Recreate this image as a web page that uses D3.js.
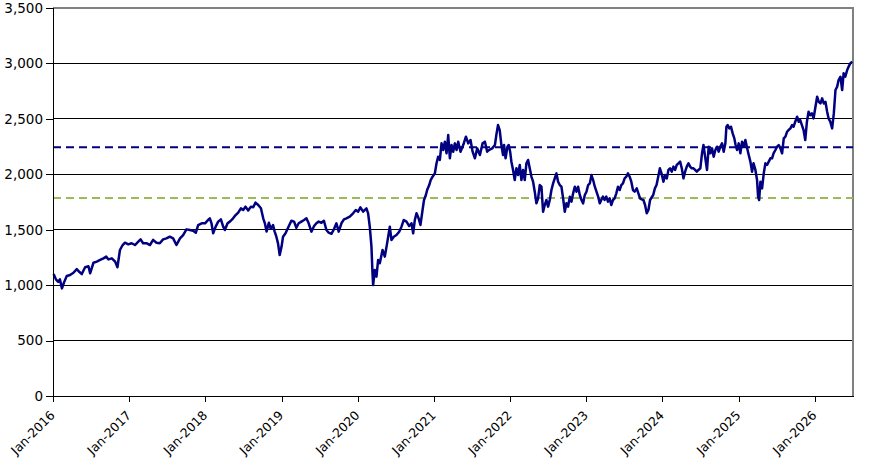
<!DOCTYPE html>
<html>
<head>
<meta charset="utf-8">
<script src="https://cdn.jsdelivr.net/npm/d3@7"></script>
<style>
  body { margin: 0; background: #fff; }
  svg { display: block; }
</style>
</head>
<body>
<div id="chart"></div>
<script>
// index level (weekly-ish samples)
var dates = [
  "2016-01-04","2016-01-15","2016-01-26","2016-02-03","2016-02-13","2016-02-23","2016-03-07","2016-03-23","2016-04-08","2016-04-24",
  "2016-05-07","2016-05-18","2016-06-03","2016-06-19","2016-06-27","2016-07-13","2016-07-29","2016-08-14","2016-08-30","2016-09-12",
  "2016-09-23","2016-10-09","2016-10-25","2016-11-05","2016-11-17","2016-11-30","2016-12-11","2016-12-27",
  "2017-01-12","2017-01-28","2017-02-13","2017-02-24","2017-03-08","2017-03-24","2017-04-10","2017-04-25","2017-05-11","2017-05-27",
  "2017-06-12","2017-06-28","2017-07-14","2017-07-30","2017-08-15","2017-09-01","2017-09-16","2017-10-02","2017-10-18","2017-11-03",
  "2017-11-16","2017-11-27","2017-12-14","2017-12-30",
  "2018-01-14","2018-01-22","2018-01-30","2018-02-07","2018-02-19","2018-03-03","2018-03-16","2018-03-27","2018-04-04","2018-04-17",
  "2018-04-28","2018-05-09","2018-05-22","2018-06-07","2018-06-20","2018-07-01","2018-07-12","2018-07-25","2018-08-07","2018-08-18",
  "2018-08-29","2018-09-11","2018-09-24","2018-10-05","2018-10-13","2018-10-21","2018-11-01","2018-11-10","2018-11-21","2018-11-29",
  "2018-12-07","2018-12-15","2018-12-23",
  "2019-01-01","2019-01-08","2019-01-20","2019-02-01","2019-02-17","2019-03-02","2019-03-13","2019-03-24","2019-04-06","2019-04-19",
  "2019-04-30","2019-05-11","2019-05-24","2019-06-06","2019-06-17","2019-06-28","2019-07-11","2019-07-23","2019-08-04","2019-08-15",
  "2019-08-28","2019-09-10","2019-09-21","2019-10-02","2019-10-15","2019-10-27","2019-11-08","2019-11-24","2019-12-10","2019-12-23",
  "2020-01-03","2020-01-14","2020-01-27","2020-02-12","2020-02-20","2020-02-28","2020-03-07","2020-03-12","2020-03-15","2020-03-23",
  "2020-03-31","2020-04-08","2020-04-16","2020-04-29","2020-05-10","2020-05-21","2020-06-03","2020-06-11","2020-06-22","2020-07-05",
  "2020-07-18","2020-07-29","2020-08-09","2020-08-22","2020-09-04","2020-09-15","2020-09-23","2020-10-01","2020-10-09","2020-10-19",
  "2020-10-28","2020-11-07","2020-11-14","2020-11-23","2020-11-29","2020-12-09","2020-12-16","2020-12-25",
  "2021-01-05","2021-01-13","2021-01-21","2021-01-29","2021-02-06","2021-02-14","2021-02-22","2021-03-02","2021-03-10","2021-03-18",
  "2021-03-26","2021-04-03","2021-04-11","2021-04-19","2021-04-27","2021-05-08","2021-05-21","2021-06-03","2021-06-14","2021-06-25",
  "2021-07-05","2021-07-16","2021-07-27","2021-08-09","2021-08-22","2021-09-02","2021-09-13","2021-09-23","2021-10-07","2021-10-20",
  "2021-10-28","2021-11-04","2021-11-12","2021-11-20","2021-11-28","2021-12-03","2021-12-10","2021-12-19","2021-12-25",
  "2022-01-01","2022-01-07","2022-01-15","2022-01-23","2022-01-31","2022-02-08","2022-02-16","2022-02-24","2022-03-04","2022-03-12",
  "2022-03-20","2022-03-28","2022-04-05","2022-04-13","2022-04-21","2022-04-29","2022-05-07","2022-05-15","2022-05-23","2022-05-31",
  "2022-06-08","2022-06-16","2022-06-24","2022-07-02","2022-07-10","2022-07-18","2022-07-26","2022-08-03","2022-08-11","2022-08-19",
  "2022-08-27","2022-09-04","2022-09-12","2022-09-20","2022-09-28","2022-10-06","2022-10-14","2022-10-22","2022-10-30","2022-11-07",
  "2022-11-15","2022-11-23","2022-12-01","2022-12-09","2022-12-17","2022-12-25",
  "2023-01-02","2023-01-10","2023-01-18","2023-01-26","2023-02-03","2023-02-11","2023-02-19","2023-02-27","2023-03-07","2023-03-14",
  "2023-03-22","2023-03-30","2023-04-07","2023-04-15","2023-04-23","2023-05-01","2023-05-09","2023-05-17","2023-05-25","2023-06-02",
  "2023-06-10","2023-06-18","2023-06-26","2023-07-04","2023-07-12","2023-07-20","2023-07-28","2023-08-05","2023-08-13","2023-08-21",
  "2023-08-31","2023-09-08","2023-09-16","2023-09-24","2023-10-02","2023-10-10","2023-10-18","2023-10-26","2023-11-03","2023-11-11",
  "2023-11-18","2023-11-26","2023-12-04","2023-12-12","2023-12-20","2023-12-28",
  "2024-01-06","2024-01-14","2024-01-22","2024-01-30","2024-02-07","2024-02-15","2024-02-23","2024-03-02","2024-03-10","2024-03-18",
  "2024-03-26","2024-04-03","2024-04-11","2024-04-19","2024-04-27","2024-05-05","2024-05-13","2024-05-21","2024-05-29","2024-06-06",
  "2024-06-14","2024-06-22","2024-07-01","2024-07-09","2024-07-16","2024-07-25","2024-08-02","2024-08-10","2024-08-18","2024-08-26",
  "2024-09-03","2024-09-11","2024-09-19","2024-09-27","2024-10-05","2024-10-13","2024-10-21","2024-10-29","2024-11-03","2024-11-09",
  "2024-11-17","2024-11-25","2024-12-03","2024-12-11","2024-12-17","2024-12-24",
  "2025-01-01","2025-01-09","2025-01-17","2025-01-25","2025-02-02","2025-02-10","2025-02-18","2025-02-26","2025-03-06","2025-03-13",
  "2025-03-22","2025-03-30","2025-04-04","2025-04-09","2025-04-15","2025-04-23","2025-05-01","2025-05-09","2025-05-17","2025-05-25",
  "2025-06-02","2025-06-10","2025-06-17","2025-06-26","2025-07-04","2025-07-12","2025-07-20","2025-07-28","2025-08-05","2025-08-13",
  "2025-08-21","2025-08-28","2025-09-06","2025-09-14","2025-09-21","2025-09-29","2025-10-08","2025-10-16","2025-10-23","2025-10-31",
  "2025-11-08","2025-11-16","2025-11-24","2025-12-02","2025-12-10","2025-12-18","2025-12-26",
  "2026-01-04","2026-01-12","2026-01-20","2026-01-28","2026-02-05","2026-02-13","2026-02-21","2026-03-01","2026-03-08","2026-03-16",
  "2026-03-25","2026-04-02","2026-04-10","2026-04-18","2026-04-25","2026-05-04","2026-05-12","2026-05-19","2026-05-27","2026-06-05",
  "2026-06-12","2026-06-20","2026-06-29"
];

var values = [
  1100,1052,1030,1052,971,1025,1082,1092,1112,1145,
  1118,1100,1161,1170,1107,1202,1212,1227,1242,1257,
  1232,1242,1212,1161,1317,1362,1383,1368,
  1378,1362,1392,1413,1378,1378,1362,1408,1383,1378,
  1413,1422,1437,1422,1362,1422,1452,1503,1497,1491,
  1473,1542,1558,1558,
  1588,1603,1558,1468,1528,1573,1593,1528,1497,1558,
  1573,1593,1624,1654,1693,1678,1708,1673,1708,1703,
  1744,1723,1693,1603,1558,1483,1563,1508,1542,1483,
  1437,1377,1272,
  1348,1437,1468,1518,1581,1573,1518,1558,1573,1588,
  1603,1558,1483,1533,1558,1573,1563,1581,1497,1473,
  1463,1508,1558,1483,1558,1593,1603,1618,1648,1678,
  1663,1702,1663,1693,1648,1527,1347,1107,1001,1137,
  1077,1227,1197,1317,1257,1377,1527,1407,1437,1452,
  1482,1527,1588,1573,1533,1558,1467,1588,1648,1603,
  1543,1678,1768,1813,1858,1903,1948,1978,
  2008,2099,2159,2129,2279,2219,2294,2189,2354,2144,
  2264,2204,2279,2219,2294,2204,2264,2339,2279,2309,
  2204,2144,2234,2174,2279,2294,2204,2220,2234,2264,
  2369,2444,2399,2264,2174,2264,2144,2249,2264,
  2204,2114,2039,1948,2054,1994,2084,1948,2039,1948,
  2099,2129,2054,1979,1933,1843,1738,1783,1903,1888,
  1662,1723,1768,1708,1768,1858,1918,1963,2008,1933,
  1903,1888,1783,1662,1738,1708,1798,1753,1828,1888,
  1843,1888,1813,1768,1738,1813,
  1843,1903,1918,1993,1948,1888,1843,1798,1738,1768,
  1798,1768,1798,1753,1783,1723,1768,1783,1828,1888,
  1858,1903,1918,1963,1978,2008,1978,1933,1858,1843,
  1873,1828,1783,1774,1768,1723,1648,1678,1768,1793,
  1813,1873,1903,1978,2054,2008,
  1933,1993,1963,2039,2054,2024,2069,2039,2084,2099,
  2114,2054,1963,2024,2069,2099,2069,2054,2054,2039,
  2024,2039,2054,2189,2264,2144,2039,2249,2189,2234,
  2159,2219,2249,2204,2249,2279,2204,2279,2429,2444,
  2414,2429,2369,2324,2264,2219,
  2279,2189,2294,2249,2309,2240,2174,2114,2023,2099,
  2039,1948,1798,1768,1933,1873,2008,2099,2084,2114,
  2144,2144,2189,2219,2249,2264,2234,2189,2324,2339,
  2384,2399,2414,2444,2429,2474,2519,2474,2489,2444,
  2399,2309,2474,2564,2534,2549,2504,
  2609,2700,2654,2639,2685,2639,2654,2564,2504,2474,
  2414,2549,2760,2790,2850,2880,2760,2911,2880,2940,
  2971,3001,3016
];

// horizontal reference levels
var refLevels = [2243, 1785];
var refColors = ["#000080", "#9bbb59"];

var yTicks = [0, 500, 1000, 1500, 2000, 2500, 3000, 3500];
var xStart = "2016-01-01", xEnd = "2026-07-03";

var width = 877, height = 470;
var margin = { top: 8, right: 24, bottom: 74, left: 53 };
var plotW = width - margin.left - margin.right,
  plotH = height - margin.top - margin.bottom;

var parse = d3.timeParse("%Y-%m-%d");
var data = dates.map(function(d, i) {
  return { date: parse(d), value: values[i] };
});

var x = d3.scaleTime()
  .domain([parse(xStart), parse(xEnd)])
  .range([0, plotW]);

var y = d3.scaleLinear()
  .domain([0, 3500])
  .range([plotH, 0]);

var svg = d3.select("#chart").append("svg")
  .attr("width", width)
  .attr("height", height)
  .append("g")
  .attr("transform", "translate(" + margin.left + "," + margin.top + ")");

// gridlines
svg.selectAll(".grid")
  .data(yTicks.slice(1, -1))
  .enter()
  .append("line")
  .attr("x1", 0)
  .attr("x2", plotW)
  .attr("y1", function(d) { return y(d); })
  .attr("y2", function(d) { return y(d); })
  .style("stroke", "#000")
  .style("stroke-width", 1)
  .attr("shape-rendering", "crispEdges");

// plot border (top / right)
svg.append("path")
  .attr("d", "M0," + y(3500) + "H" + plotW + "V" + plotH)
  .style("fill", "none")
  .style("stroke", "#808080")
  .style("stroke-width", 2);

// dashed reference lines
svg.selectAll(".ref")
  .data(refLevels)
  .enter()
  .append("line")
  .attr("x1", 0)
  .attr("x2", plotW)
  .attr("y1", function(d) { return y(d); })
  .attr("y2", function(d) { return y(d); })
  .style("stroke", function(d, i) { return refColors[i]; })
  .style("stroke-width", 2)
  .style("stroke-dasharray", "8,5");

// series
var line = d3.line()
  .x(function(d) { return x(d.date); })
  .y(function(d) { return y(d.value); });

svg.append("path")
  .datum(data)
  .attr("d", line)
  .style("fill", "none")
  .style("stroke", "#000080")
  .style("stroke-width", 2.5)
  .style("stroke-linejoin", "round");

// y axis
var yAxis = svg.append("g")
  .call(d3.axisLeft(y)
    .tickValues(yTicks)
    .tickSize(7)
    .tickPadding(3)
    .tickFormat(d3.format(",")));
yAxis.select(".domain").style("stroke", "#000").attr("shape-rendering", "crispEdges");
yAxis.selectAll("line").style("stroke", "#000").attr("shape-rendering", "crispEdges");
yAxis.selectAll("text")
  .style("font-family", "DejaVu Sans")
  .style("font-size", "13.5px")
  .style("fill", "#000");

// x axis
var xTicks = d3.range(2016, 2027).map(function(yr) { return new Date(yr, 0, 1); });
var xAxis = svg.append("g")
  .attr("transform", "translate(0," + plotH + ")")
  .call(d3.axisBottom(x)
    .tickValues(xTicks)
    .tickSize(6)
    .tickSizeOuter(0)
    .tickFormat(d3.timeFormat("%b-%Y")));
xAxis.select(".domain").style("stroke", "#000").attr("shape-rendering", "crispEdges");
xAxis.selectAll("line").style("stroke", "#000").attr("shape-rendering", "crispEdges");
xAxis.selectAll("text")
  .attr("y", 0)
  .attr("dy", "0.35em")
  .attr("transform", "translate(-1,17) rotate(-45)")
  .style("text-anchor", "end")
  .style("font-family", "DejaVu Sans")
  .style("font-size", "12.5px")
  .style("fill", "#000");
</script>
</body>
</html>
